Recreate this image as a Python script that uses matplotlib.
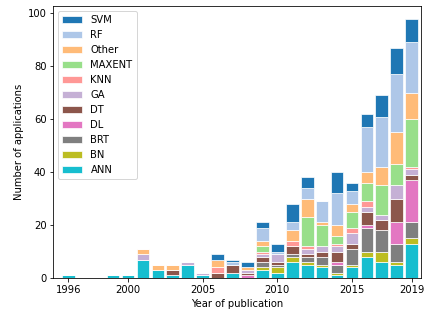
import numpy as np
import matplotlib
matplotlib.use("Agg")
import matplotlib.pyplot as plt

years = list(range(1996, 2020))
#          96 97 98 99 00 01 02 03 04 05 06 07 08 09 10 11 12 13 14 15 16 17 18 19
ANN    = [1, 0, 0, 1, 1, 7, 3, 1, 5, 1, 0, 2, 0, 3, 2, 6, 5, 4, 1, 4, 8, 6, 5, 13]
BN     = [0, 0, 0, 0, 0, 0, 0, 0, 0, 0, 0, 0, 0, 1, 2, 2, 1, 1, 1, 1, 2, 4, 1, 2]
BRT    = [0, 0, 0, 0, 0, 0, 0, 0, 0, 0, 0, 0, 0, 2, 1, 1, 2, 3, 3, 6, 9, 8, 7, 6]
DL     = [0, 0, 0, 0, 0, 0, 0, 0, 0, 0, 0, 0, 1, 0, 0, 0, 0, 0, 1, 0, 1, 0, 8, 16]
DT     = [0, 0, 0, 0, 0, 0, 0, 2, 0, 0, 2, 3, 1, 2, 1, 3, 1, 2, 4, 2, 5, 4, 9, 2]
GA     = [0, 0, 0, 0, 0, 2, 0, 0, 1, 1, 0, 0, 1, 1, 3, 0, 2, 2, 2, 4, 2, 2, 5, 2]
KNN    = [0, 0, 0, 0, 0, 0, 0, 0, 0, 0, 2, 0, 0, 1, 0, 2, 1, 0, 1, 2, 2, 0, 0, 1]
MAXENT = [0, 0, 0, 0, 0, 0, 0, 0, 0, 0, 0, 0, 0, 2, 0, 0, 11, 8, 3, 6, 7, 11, 8, 18]
Other  = [0, 0, 0, 0, 0, 2, 2, 2, 0, 0, 3, 0, 1, 2, 0, 4, 7, 1, 4, 3, 4, 7, 12, 10]
RF     = [0, 0, 0, 0, 0, 0, 0, 0, 0, 0, 0, 1, 0, 5, 1, 3, 4, 8, 12, 5, 17, 19, 22, 19]
SVM    = [0, 0, 0, 0, 0, 0, 0, 0, 0, 0, 2, 1, 2, 2, 3, 7, 4, 0, 8, 3, 5, 8, 10, 9]

methods = ["ANN", "BN", "BRT", "DL", "DT", "GA", "KNN", "MAXENT", "Other", "RF", "SVM"]
series = [ANN, BN, BRT, DL, DT, GA, KNN, MAXENT, Other, RF, SVM]
colors = ["#17becf", "#bcbd22", "#7f7f7f", "#e377c2", "#8c564b", "#c5b0d5",
          "#ff9896", "#98df8a", "#ffbb78", "#aec7e8", "#1f77b4"]

fig = plt.figure(figsize=(424 / 72, 310 / 72), dpi=72)
ax = fig.add_axes([0.126, 0.103, 0.866, 0.879])

bottom = np.zeros(len(years))
for name, vals, c in zip(methods, series, colors):
    ax.bar(years, vals, bottom=bottom, width=0.85, color=c,
           edgecolor="white", linewidth=0.7, label=name)
    bottom += np.array(vals)

ax.set_xlim(1995.0, 2019.6)
ax.set_ylim(0, bottom.max() * 1.05)
ax.set_xticks([1996, 2000, 2005, 2010, 2015, 2019])
ax.set_xlabel("Year of publication")
ax.set_ylabel("Number of applications")

handles, labels = ax.get_legend_handles_labels()
ax.legend(handles[::-1], labels[::-1], loc="upper left")

fig.savefig("out.png", dpi=72)
